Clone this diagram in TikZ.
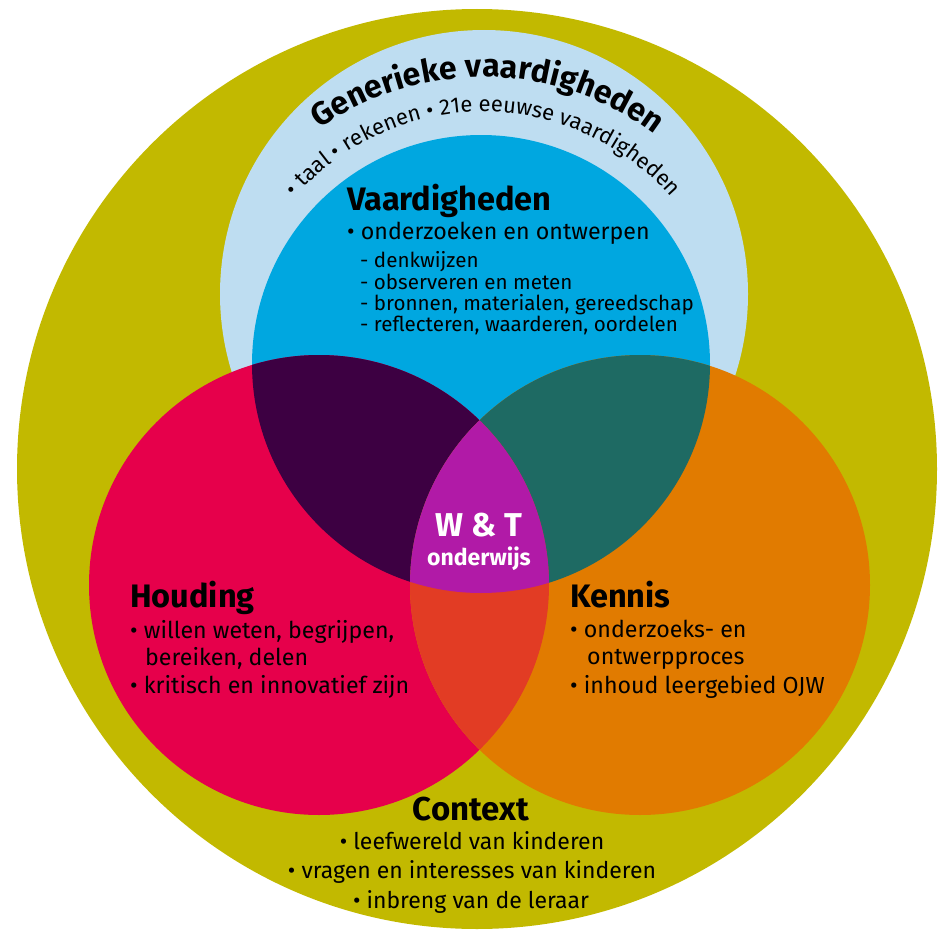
\documentclass[tikz,border=0pt]{standalone}
\usepackage{fontspec}
\setmainfont{Fira Sans}
\usetikzlibrary{decorations.text}
\definecolor{cOlive}{RGB}{194,185,0}
\definecolor{cLightBlue}{RGB}{190,221,241}
\definecolor{cBlue}{RGB}{0,167,224}
\definecolor{cRed}{RGB}{230,0,75}
\definecolor{cOrange}{RGB}{225,123,0}
\definecolor{cPurple}{RGB}{61,0,66}
\definecolor{cTeal}{RGB}{30,106,99}
\definecolor{cRedOr}{RGB}{226,60,36}
\definecolor{cMag}{RGB}{177,26,167}
\tikzset{
  head/.style={anchor=base west, inner sep=0pt, font=\bfseries\fontsize{32.5}{32.5}\selectfont},
  item/.style={anchor=base west, inner sep=0pt, font=\fontsize{23.2}{23.2}\selectfont},
  subitem/.style={anchor=base west, inner sep=0pt, font=\fontsize{20.6}{20.6}\selectfont},
  citem/.style={anchor=base, inner sep=0pt, font=\fontsize{23}{23}\selectfont},
}
\begin{document}
\begin{tikzpicture}[x=1pt,y=1pt]
\useasboundingbox (0,0) rectangle (940,-934);
% circles
\fill[cOlive] (477,-469) circle (460);
\fill[cLightBlue] (484,-294) circle (264);
\fill[cBlue] (481,-364) circle (229);
\fill[cRed] (319,-585) circle (230);
\fill[cOrange] (640,-585) circle (230);
% intersections
\begin{scope}
  \clip (481,-364) circle (229);
  \fill[cPurple] (319,-585) circle (230);
  \fill[cTeal] (640,-585) circle (230);
\end{scope}
\begin{scope}
  \clip (319,-585) circle (230);
  \fill[cRedOr] (640,-585) circle (230);
  \clip (640,-585) circle (230);
  \fill[cMag] (481,-364) circle (229);
\end{scope}
% curved texts
\path[decorate, decoration={text along path, text align=center,
  text={|\bfseries\fontsize{32}{32}\selectfont|Generieke vaardigheden}}]
  (483,-362) ++(155:285) arc[start angle=155, end angle=23, radius=285];
\path[decorate, decoration={text along path, text align=center,
  text={|\fontsize{22}{22}\selectfont|• taal • rekenen • 21e eeuwse vaardigheden}}]
  (483,-362) ++(165:250) arc[start angle=165, end angle=15, radius=250];
% Vaardigheden
\node[head] (vh) at (347,-210) {Vaardigheden};
\node[item] (v1) at (347,-239) {• onderzoeken en ontwerpen};
\node[subitem] (v2) at (360,-267) {- denkwijzen};
\node[subitem] (v3) at (360,-289) {- observeren en meten};
\node[subitem] (v4) at (360,-310) {- bronnen, materialen, gereedschap};
\node[subitem] (v5) at (360,-331) {- reflecteren, waarderen, oordelen};
% W&T
\node[anchor=base, inner sep=0pt, text=white, font=\bfseries\fontsize{33}{33}\selectfont] (wt) at (479,-536) {W \& T};
\node[anchor=base, inner sep=0pt, text=white, font=\bfseries\fontsize{23}{23}\selectfont] (wo) at (479,-565) {onderwijs};
% Houding
\node[head] (hh) at (130,-607) {Houding};
\node[item] (h1) at (130,-638) {• willen weten, begrijpen,};
\node[item] (h2) at (145,-665) {bereiken, delen};
\node[item] (h3) at (130,-693) {• kritisch en innovatief zijn};
% Kennis
\node[head] (kh) at (570,-607) {Kennis};
\node[item] (k1) at (570,-637) {• onderzoeks- en};
\node[item] (k2) at (587,-664) {ontwerpproces};
\node[item] (k3) at (570,-693) {• inhoud leergebied OJW};
% Context
\node[anchor=base, inner sep=0pt, font=\bfseries\fontsize{33}{33}\selectfont] (ch) at (471,-820) {Context};
\node[citem] (c1) at (472,-849) {• leefwereld van kinderen};
\node[citem] (c2) at (472,-878) {• vragen en interesses van kinderen};
\node[citem] (c3) at (471,-908) {• inbreng van de leraar};
\end{tikzpicture}
\end{document}
